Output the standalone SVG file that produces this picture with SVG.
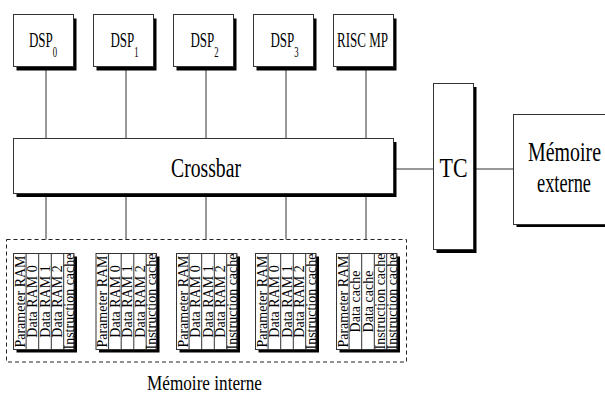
<svg xmlns="http://www.w3.org/2000/svg" width="605" height="394" viewBox="0 0 605 394" font-family="'Liberation Serif', 'DejaVu Serif', serif">
  <style>
    .box{fill:#fff;stroke:#333;stroke-width:1}
    .shadow{fill:#000}
    .wire{fill:none;stroke:#333;stroke-width:1}
    .sep{stroke:#333;stroke-width:1}
    .dash{fill:none;stroke:#222;stroke-width:1;stroke-dasharray:4 3}
    text{font-family:'Liberation Serif','DejaVu Serif',serif;fill:#000}
    .mid{font-size:21px;text-anchor:middle}
    .col{font-size:14px;text-anchor:middle}
  </style>
  <defs>
    <clipPath id="bank-clip"><rect x="0" y="0" width="60.5" height="96"/></clipPath>
  </defs>

  <!-- connectors -->
  <g id="connectors" class="wire">
    <path d="M46 68V138.5M126 68V138.5M206 68V138.5M286 68V138.5M366 68V138.5"/>
    <path d="M46 196V239.5M126 196V239.5M206 196V239.5M286 196V239.5M366 196V239.5"/>
    <path d="M393.5 169H433.5"/>
    <path d="M473.5 169H513.5"/>
  </g>

  <!-- processors -->
  <g id="dsp0">
    <rect class="shadow" x="16.5" y="18.5" width="60" height="52"/>
    <rect class="box" x="13.5" y="14.5" width="60" height="52"/>
    <text class="mid" transform="translate(43,47.3) scale(0.62 1)">DSP<tspan font-size="14" dy="10">0</tspan></text>
  </g>
  <g id="dsp1">
    <rect class="shadow" x="96.5" y="18.5" width="60" height="52"/>
    <rect class="box" x="93.5" y="14.5" width="60" height="52"/>
    <text class="mid" transform="translate(124.5,47.3) scale(0.62 1)">DSP<tspan font-size="14" dy="10">1</tspan></text>
  </g>
  <g id="dsp2">
    <rect class="shadow" x="176.5" y="18.5" width="60" height="52"/>
    <rect class="box" x="173.5" y="14.5" width="60" height="52"/>
    <text class="mid" transform="translate(204.5,47.3) scale(0.62 1)">DSP<tspan font-size="14" dy="10">2</tspan></text>
  </g>
  <g id="dsp3">
    <rect class="shadow" x="256.5" y="18.5" width="60" height="52"/>
    <rect class="box" x="253.5" y="14.5" width="60" height="52"/>
    <text class="mid" transform="translate(284.5,47.3) scale(0.62 1)">DSP<tspan font-size="14" dy="10">3</tspan></text>
  </g>
  <g id="risc">
    <rect class="shadow" x="336.5" y="18.5" width="60" height="52"/>
    <rect class="box" x="333.5" y="14.5" width="60" height="52"/>
    <text x="337" y="47.3" font-size="21" textLength="51" lengthAdjust="spacingAndGlyphs">RISC MP</text>
  </g>

  <!-- interconnect -->
  <g id="crossbar">
    <rect class="shadow" x="16.5" y="142" width="380" height="55"/>
    <rect class="box" x="13.5" y="138.5" width="380" height="55"/>
    <text x="171" y="177" font-size="27" textLength="70" lengthAdjust="spacingAndGlyphs">Crossbar</text>
  </g>
  <g id="tc">
    <rect class="shadow" x="436.5" y="87" width="40" height="166"/>
    <rect class="box" x="433.5" y="83.5" width="40" height="166"/>
    <text x="439.5" y="176.7" font-size="27" textLength="28" lengthAdjust="spacingAndGlyphs">TC</text>
  </g>
  <g id="external-memory">
    <rect class="shadow" x="516.5" y="117" width="100" height="110"/>
    <rect class="box" x="513.5" y="114.5" width="100" height="110"/>
    <text x="528" y="160.7" font-size="27" textLength="73" lengthAdjust="spacingAndGlyphs">Mémoire</text>
    <text x="537" y="191.7" font-size="27" textLength="54" lengthAdjust="spacingAndGlyphs">externe</text>
  </g>

  <!-- on-chip memory -->
  <g id="internal-memory">
    <rect class="dash" x="6.5" y="239.5" width="400" height="122.5"/>
    <text x="147" y="389.5" font-size="21" textLength="115" lengthAdjust="spacingAndGlyphs">Mémoire interne</text>
  </g>

  <g id="bank0" transform="translate(13.5 253.5)">
    <rect class="shadow" x="3" y="3" width="60.5" height="96"/>
    <rect class="box" x="0" y="0" width="60.5" height="96"/>
    <path class="sep" d="M12.6 0V96M25.2 0V96M37.8 0V96M50.2 0V96"/>
    <g clip-path="url(#bank-clip)">
      <text class="col" transform="translate(11.2 48) rotate(-90)">Parameter RAM</text>
      <text class="col" transform="translate(23.8 48) rotate(-90)">Data RAM 0</text>
      <text class="col" transform="translate(36.4 48) rotate(-90)">Data RAM 1</text>
      <text class="col" transform="translate(48.8 48) rotate(-90)">Data RAM 2</text>
      <text class="col" transform="translate(60 48) rotate(-90)">Instruction cache</text>
    </g>
  </g>
  <g id="bank1" transform="translate(96 253.5)">
    <rect class="shadow" x="3" y="3" width="60.5" height="96"/>
    <rect class="box" x="0" y="0" width="60.5" height="96"/>
    <path class="sep" d="M12.6 0V96M25.2 0V96M37.8 0V96M50.2 0V96"/>
    <g clip-path="url(#bank-clip)">
      <text class="col" transform="translate(11.2 48) rotate(-90)">Parameter RAM</text>
      <text class="col" transform="translate(23.8 48) rotate(-90)">Data RAM 0</text>
      <text class="col" transform="translate(36.4 48) rotate(-90)">Data RAM 1</text>
      <text class="col" transform="translate(48.8 48) rotate(-90)">Data RAM 2</text>
      <text class="col" transform="translate(60 48) rotate(-90)">Instruction cache</text>
    </g>
  </g>
  <g id="bank2" transform="translate(176.5 253.5)">
    <rect class="shadow" x="3" y="3" width="60.5" height="96"/>
    <rect class="box" x="0" y="0" width="60.5" height="96"/>
    <path class="sep" d="M12.6 0V96M25.2 0V96M37.8 0V96M50.2 0V96"/>
    <g clip-path="url(#bank-clip)">
      <text class="col" transform="translate(11.2 48) rotate(-90)">Parameter RAM</text>
      <text class="col" transform="translate(23.8 48) rotate(-90)">Data RAM 0</text>
      <text class="col" transform="translate(36.4 48) rotate(-90)">Data RAM 1</text>
      <text class="col" transform="translate(48.8 48) rotate(-90)">Data RAM 2</text>
      <text class="col" transform="translate(60 48) rotate(-90)">Instruction cache</text>
    </g>
  </g>
  <g id="bank3" transform="translate(255.5 253.5)">
    <rect class="shadow" x="3" y="3" width="60.5" height="96"/>
    <rect class="box" x="0" y="0" width="60.5" height="96"/>
    <path class="sep" d="M12.6 0V96M25.2 0V96M37.8 0V96M50.2 0V96"/>
    <g clip-path="url(#bank-clip)">
      <text class="col" transform="translate(11.2 48) rotate(-90)">Parameter RAM</text>
      <text class="col" transform="translate(23.8 48) rotate(-90)">Data RAM 0</text>
      <text class="col" transform="translate(36.4 48) rotate(-90)">Data RAM 1</text>
      <text class="col" transform="translate(48.8 48) rotate(-90)">Data RAM 2</text>
      <text class="col" transform="translate(60 48) rotate(-90)">Instruction cache</text>
    </g>
  </g>
  <g id="bank4" transform="translate(336.5 253.5)">
    <rect class="shadow" x="3" y="3" width="60.5" height="96"/>
    <rect class="box" x="0" y="0" width="60.5" height="96"/>
    <path class="sep" d="M12.6 0V96M25.2 0V96M37.8 0V96M50.2 0V96"/>
    <g clip-path="url(#bank-clip)">
      <text class="col" transform="translate(11.2 48) rotate(-90)">Parameter RAM</text>
      <text class="col" transform="translate(23.8 48) rotate(-90)">Data cache</text>
      <text class="col" transform="translate(36.4 48) rotate(-90)">Data cache</text>
      <text class="col" transform="translate(48.8 48) rotate(-90)">Instruction cache</text>
      <text class="col" transform="translate(60 48) rotate(-90)">Instruction cache</text>
    </g>
  </g>
</svg>
